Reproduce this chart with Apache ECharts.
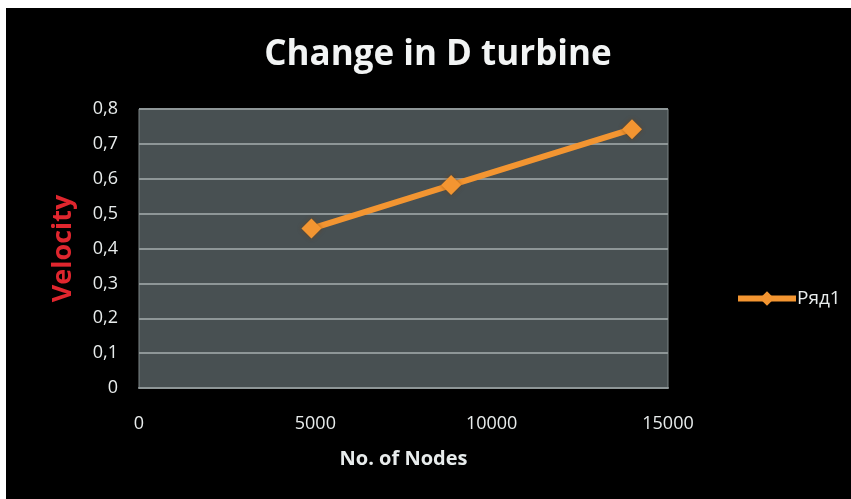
<!DOCTYPE html>
<html>
<head>
<meta charset="utf-8">
<script src="https://cdn.jsdelivr.net/npm/echarts@6/dist/echarts.min.js"></script>
<style>
  html, body { margin: 0; padding: 0; background: #ffffff; }
  #frame { position: absolute; left: 6px; top: 8px; width: 845px; height: 491px; background: #000000; }
  #chart { position: absolute; left: 0; top: 0; width: 851px; height: 499px; }
</style>
</head>
<body>
<div id="frame"></div>
<div id="chart"></div>
<script>
// Velocity versus mesh size for the D turbine
const nodes = [4890, 8850, 13980];
const velocity = [0.457, 0.582, 0.742];
const seriesName = 'Ряд1';
const xTicks = [0, 5000, 10000, 15000];
const yTicks = [0, 0.1, 0.2, 0.3, 0.4, 0.5, 0.6, 0.7, 0.8];

const chart = echarts.init(document.getElementById('chart'), null, { renderer: 'canvas' });
const font = '"Open Sans", Lato, sans-serif';
const orange = '#f39531';
const textColor = '#e8ecec';

chart.setOption({
  backgroundColor: 'transparent',
  animation: false,
  title: {
    text: 'Change in D turbine',
    left: 433,
    textAlign: 'center',
    top: 33,
    textStyle: { color: '#f2f4f4', fontFamily: font, fontWeight: 'bold', fontSize: 35 }
  },
  legend: {
    left: 730,
    top: 284,
    itemWidth: 58,
    itemHeight: 18,
    itemGap: 4,
    lineStyle: { width: 6 },
    textStyle: { color: textColor, fontFamily: font, fontSize: 19, padding: [0, 0, 0, -4] },
    data: [seriesName]
  },
  grid: {
    left: 139, right: 183, top: 109, bottom: 111,
    show: true,
    backgroundColor: '#485052',
    borderColor: '#7d8586',
    borderWidth: 1
  },
  xAxis: {
    type: 'value',
    min: xTicks[0],
    max: xTicks[xTicks.length - 1],
    interval: xTicks[1] - xTicks[0],
    name: 'No. of Nodes',
    nameLocation: 'middle',
    nameGap: 61,
    nameTextStyle: { color: textColor, fontFamily: font, fontWeight: 'bold', fontSize: 20 },
    axisLine: { show: true, lineStyle: { color: '#8e9697', width: 2 } },
    axisTick: { show: false },
    splitLine: { show: false },
    axisLabel: {
      color: textColor, fontFamily: font, fontSize: 18, margin: 27,
      formatter: v => String(v)
    }
  },
  yAxis: {
    type: 'value',
    min: yTicks[0],
    max: yTicks[yTicks.length - 1],
    interval: 0.1,
    name: 'Velocity',
    nameLocation: 'middle',
    nameGap: 62,
    nameRotate: 90,
    nameTextStyle: { color: '#e0262e', fontFamily: font, fontWeight: 'bold', fontSize: 27 },
    axisLine: { show: false },
    axisTick: { show: false },
    splitLine: { show: true, lineStyle: { color: '#8e9697', width: 2 } },
    axisLabel: {
      color: textColor, fontFamily: font, fontSize: 18, margin: 21,
      formatter: v => String(Math.round(v * 10) / 10).replace('.', ',')
    }
  },
  series: [{
    name: seriesName,
    type: 'line',
    data: nodes.map((n, i) => [n, velocity[i]]),
    symbol: 'diamond',
    symbolSize: 20,
    lineStyle: { color: orange, width: 6 },
    itemStyle: { color: orange, shadowColor: 'rgba(120,60,0,0.6)', shadowBlur: 4 },
    emphasis: { disabled: true }
  }]
});
</script>
</body>
</html>
